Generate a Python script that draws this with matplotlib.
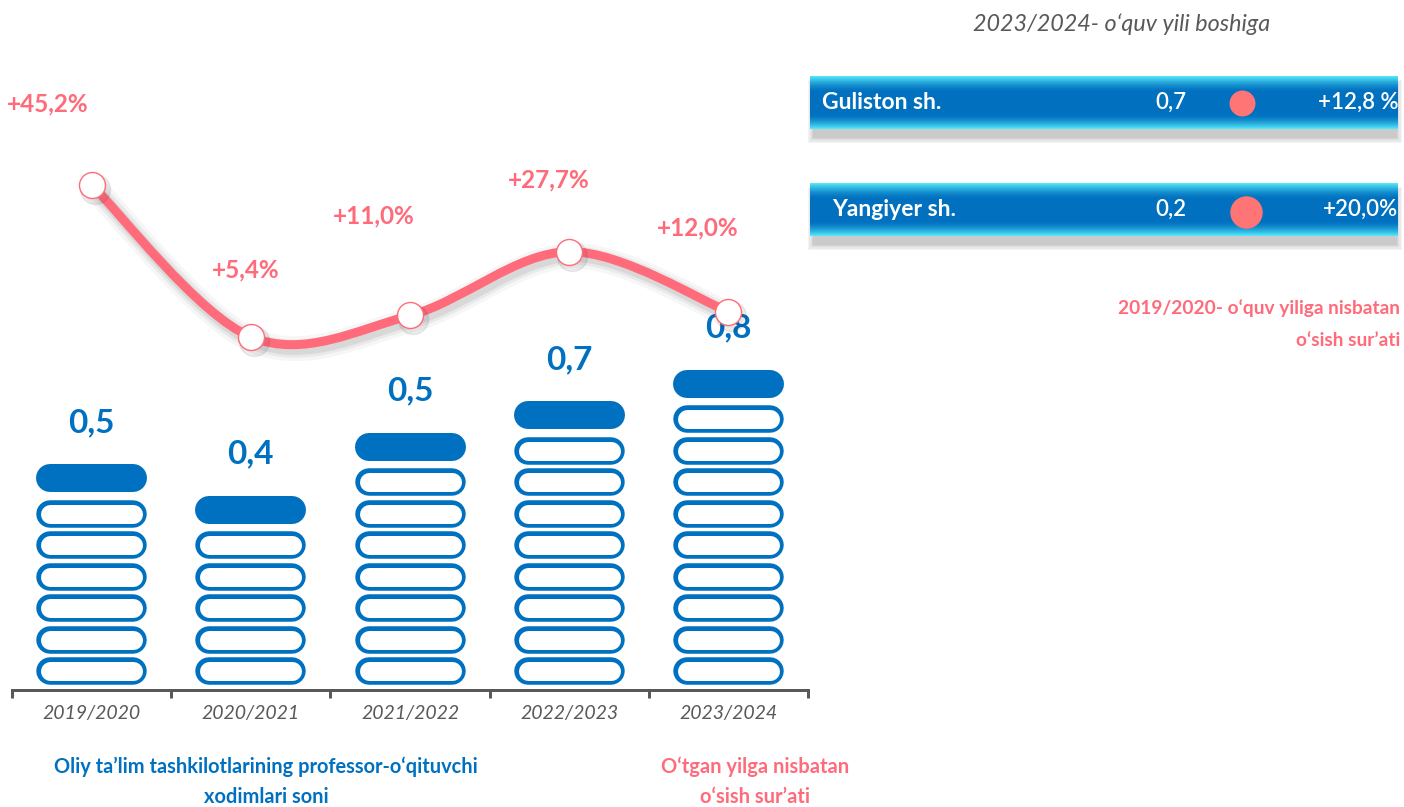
import numpy as np
import matplotlib
matplotlib.use('Agg')
import matplotlib.pyplot as plt
from matplotlib.path import Path
from matplotlib.patches import PathPatch, Rectangle
from matplotlib.transforms import offset_copy

plt.rcParams['font.family'] = ['Lato', 'DejaVu Sans']

# data
years = ['2019/2020', '2020/2021', '2021/2022', '2022/2023', '2023/2024']
staff = [0.5, 0.4, 0.5, 0.7, 0.8]          # ming kishi
icons = [7, 6, 8, 9, 10]                   # pictogram count per bar
growth = [45.2, 5.4, 11.0, 27.7, 12.0]     # % vs previous year
cities = ['Guliston sh.', 'Yangiyer sh.']
city_staff = [0.7, 0.2]
city_growth = [12.8, 20.0]
city_growth_txt = ['+12,8 %', '+20,0%']

BLUE = '#0070C0'
PINK = '#FF6B7A'
GREY = '#595959'
W, H = 1404, 807
PX = 72 / 100  # points per pixel


def fmt(v):
    return f'{v:.1f}'.replace('.', ',')


fig = plt.figure(figsize=(W / 100, H / 100), dpi=100)

# pictogram bars
rect = [12 / W, 117 / H, 796 / W, 690 / H]
pitch = 31.5
ax = fig.add_axes(rect)
ax.set_xlim(-0.5, 4.5)
ax.set_ylim(0, 690 / pitch)
seg = 41.5 / 159.2
for i, n in enumerate(icons):
    for k in range(n):
        y = 0.59 + k
        if k == n - 1:
            y += 0.13
            ax.plot([i - seg, i + seg], [y, y], color=BLUE, lw=28 * PX, solid_capstyle='round')
        else:
            ax.plot([i - seg, i + seg], [y, y], color=BLUE, lw=27.5 * PX, solid_capstyle='round')
            ax.plot([i - seg, i + seg], [y, y], color='white', lw=19 * PX, solid_capstyle='round')
    ax.annotate(fmt(staff[i]), (i, y), xytext=(0, 40), textcoords='offset points',
                ha='center', va='center', fontsize=24, fontweight='bold', color=BLUE)

for s in ['top', 'right', 'left']:
    ax.spines[s].set_visible(False)
ax.spines['bottom'].set_color(GREY)
ax.spines['bottom'].set_linewidth(3 * PX)
ax.set_yticks([])
ax.set_xticks(np.arange(-0.5, 5, 1))
ax.set_xticklabels([])
ax.tick_params(axis='x', which='major', length=6, width=3 * PX, color=GREY)
ax.set_xticks(range(5), minor=True)
ax.set_xticklabels(years, minor=True, fontstyle='italic', fontsize=14, color=GREY)
ax.tick_params(axis='x', which='minor', length=0, pad=11)

# growth line
ax2 = fig.add_axes(rect)
ax2.set_xlim(-0.5, 4.5)
ax2.set_ylim(-87.07, 93.61)
ax2.axis('off')
ax2.set_zorder(2)

pts = np.column_stack([np.arange(len(growth)), growth])
ext = np.vstack([pts[0], pts, pts[-1]])
verts = [pts[0]]
codes = [Path.MOVETO]
for j in range(len(pts) - 1):
    p0, p1, p2, p3 = ext[j], ext[j + 1], ext[j + 2], ext[j + 3]
    verts += [p1 + (p2 - p0) / 6, p2 - (p3 - p1) / 6, p2]
    codes += [Path.CURVE4] * 3
curve = Path(verts, codes)

sh_tr = offset_copy(ax2.transData, fig=fig, x=3, y=-4, units='dots')
for lw, a in [(18, 0.035), (13, 0.05), (9, 0.07)]:
    ax2.add_patch(PathPatch(curve, fill=False, lw=lw, edgecolor='black', alpha=a,
                            transform=sh_tr, capstyle='round'))
ax2.add_patch(PathPatch(curve, fill=False, lw=9 * PX, edgecolor=PINK, capstyle='round'))
ax2.plot(range(5), growth, 'o', ms=30 * PX, color='black', alpha=0.07, transform=sh_tr)
ax2.plot(range(5), growth, 'o', ms=26 * PX, mfc='white', mec=PINK, mew=1)

label_offsets = [(-44, 81), (-5, 67), (-36, 100), (-20, 72), (-31, 84)]
for i, g in enumerate(growth):
    dx, dy = label_offsets[i]
    ax2.annotate('+' + fmt(g) + '%', (i, g), xytext=(dx * PX, dy * PX), textcoords='offset points',
                 ha='center', va='center', fontsize=17.5, fontweight='bold', color=PINK)

# overlay: right panel and captions
ov = fig.add_axes([0, 0, 1, 1])
ov.axis('off')
ov.set_zorder(3)

t = np.linspace(0, 1, 60)
f = np.clip(1 - t / 0.3, 0, 1) ** 1.6 + np.clip((t - 0.72) / 0.28, 0, 1) ** 1.6
cyan = np.array([0.33, 0.91, 0.98])
blue = np.array([0.0, 0.44, 0.75])
grad = (blue + (cyan - blue) * f[:, None])[:, None, :]

rows = [(76, 129), (183, 236)]
name_x = [822, 832]
dot_x = [1242, 1246]
for r, (y0, y1) in enumerate(rows):
    for k in range(5):
        ov.add_patch(Rectangle((813 - 1.2 * k, y0 + 9 - 1.2 * k), 584 + 2.4 * k, (y1 - y0) + 2.4 * k,
                               color='black', alpha=0.045, lw=0))
    ov.imshow(grad, extent=(810, 1398, y1, y0), aspect='auto', interpolation='bilinear', zorder=2)
    yc = (y0 + y1) / 2
    ov.text(name_x[r], yc, cities[r], ha='left', va='center', fontsize=16.5, fontweight='bold',
            color='white', zorder=3)
    ov.text(1171, yc, fmt(city_staff[r]), ha='center', va='center', fontsize=16,
            fontweight='semibold', color='white', zorder=3)
    ov.scatter([dot_x[r]], [yc + 2 * r], s=27.3 * city_growth[r], color='#FF7575', lw=0, zorder=3)
    ov.text(1398, yc, city_growth_txt[r], ha='right', va='center', fontsize=16,
            fontweight='semibold', color='white', zorder=3)

ov.text(1122, 24, '2023/2024- o‘quv yili boshiga', ha='center', va='center', fontsize=16.8,
        fontstyle='italic', color=GREY)
ov.text(1400, 308, '2019/2020- o‘quv yiliga nisbatan', ha='right', va='center', fontsize=13.8,
        fontweight='bold', color=PINK)
ov.text(1400, 340, 'o‘sish sur’ati', ha='right', va='center', fontsize=13.8,
        fontweight='bold', color=PINK)

ov.text(266, 767, 'Oliy ta’lim tashkilotlarining professor-o‘qituvchi', ha='center', va='center',
        fontsize=14.4, fontweight='bold', color=BLUE)
ov.text(266, 797, 'xodimlari soni', ha='center', va='center', fontsize=14.4, fontweight='bold', color=BLUE)
ov.text(755, 767, 'O‘tgan yilga nisbatan', ha='center', va='center', fontsize=14.5,
        fontweight='bold', color=PINK)
ov.text(755, 797, 'o‘sish sur’ati', ha='center', va='center', fontsize=14.5, fontweight='bold', color=PINK)

ov.set_xlim(0, W)
ov.set_ylim(H, 0)

fig.savefig('out.png', dpi=100)
